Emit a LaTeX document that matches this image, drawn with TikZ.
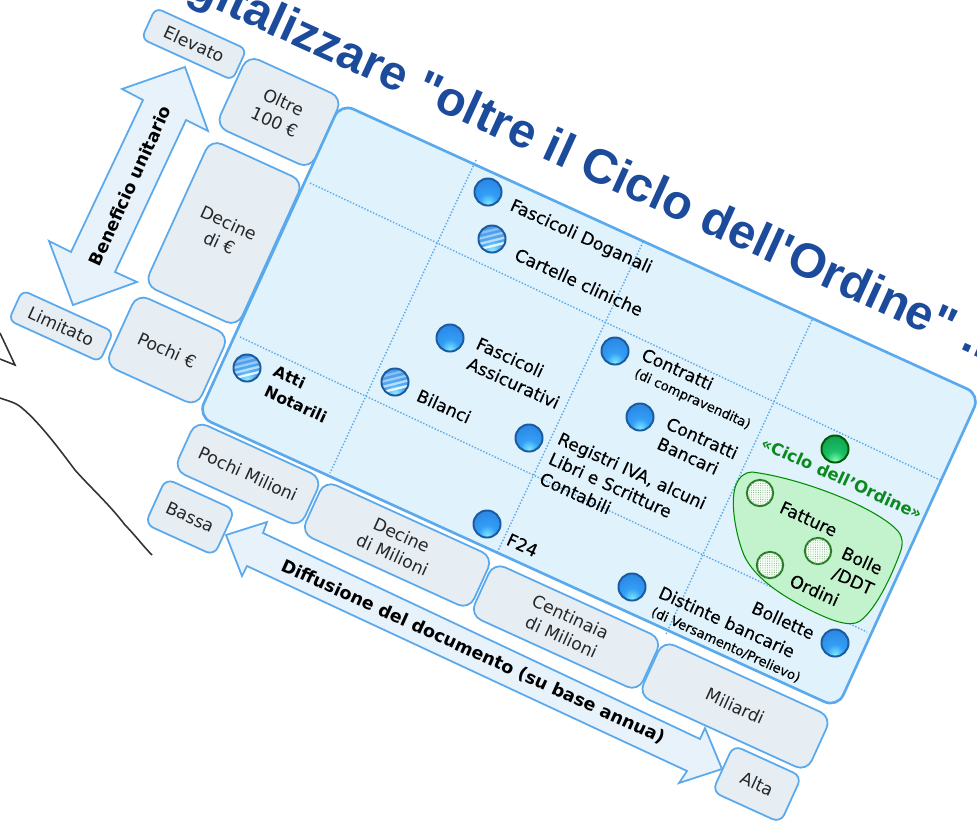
\documentclass[tikz,border=0pt]{standalone}
\usepackage{fontspec}
\setmainfont{DejaVu Sans}
\newfontfamily\titlefont{Liberation Sans}
\newfontfamily\lblfont[FakeBold=0.3]{DejaVu Sans}
\usetikzlibrary{patterns.meta}

\definecolor{edgeblue}{HTML}{5AA9EC}
\definecolor{panelblue}{HTML}{E0F2FB}
\definecolor{cellgrey}{HTML}{E6EDF3}
\definecolor{arrowfill}{HTML}{E8F2FA}
\definecolor{titleblue}{HTML}{1C4B9B}
\definecolor{blobgreen}{HTML}{C3F3CC}
\definecolor{cicloGreen}{HTML}{0A8A1E}
\definecolor{beadrim}{HTML}{1A5A9E}

\pgfdeclareradialshading{beadblue}{\pgfpoint{0bp}{-22bp}}{rgb(0bp)=(.5,.92,1);rgb(16bp)=(.2,.62,.96);rgb(45bp)=(.16,.5,.88);rgb(70bp)=(.12,.42,.76);rgb(100bp)=(.12,.42,.76)}
\pgfdeclareradialshading{beadgreen}{\pgfpoint{0bp}{-22bp}}{rgb(0bp)=(.5,1,.7);rgb(16bp)=(.1,.75,.4);rgb(45bp)=(.05,.6,.28);rgb(70bp)=(.05,.45,.2);rgb(100bp)=(.05,.45,.2)}

\tikzset{
  cell/.style={draw=edgeblue,fill=cellgrey,line width=1pt,rounded corners=7pt,rotate=-24.5,align=center,inner sep=0pt,text=black!85,font=\fontsize{9.8}{12.5}\selectfont},
  tag/.style={cell,rounded corners=4pt},
  bead/.style={circle,draw=beadrim,line width=1.1pt,minimum size=15.4pt,inner sep=0pt,shading=beadblue},
  beadlines/.style={bead,path picture={
    \fill[white,opacity=0.15] (path picture bounding box.south west) rectangle (path picture bounding box.north east);
    \foreach \s/\o in {5/.35,2/.45,-1/.6,-4/.85} {
      \draw[white,line width=1.3pt,opacity=\o] ([shift={(-12pt,{\s*1pt-3pt})}]path picture bounding box.center) -- ([shift={(12pt,{\s*1pt+3pt})}]path picture bounding box.center);
    }}},
  beaddots/.style={circle,draw=green!40!black!85,line width=1.1pt,minimum size=15pt,inner sep=0pt,fill=green!4,postaction={pattern={Dots[distance=1.3pt,radius=0.3pt]},pattern color=green!35!black!50}},
  lbl/.style={rotate=-24.5,anchor=west,align=left,inner sep=0pt,xshift=1.7pt,text=black,font=\lblfont\fontsize{9.8}{12.5}\selectfont},
  smalllbl/.style={lbl,font=\lblfont\fontsize{7.5}{9}\selectfont},
  bigarrow/.style={draw=edgeblue,fill=arrowfill,line width=1pt},
  griddot/.style={densely dotted,edgeblue,line width=0.8pt},
}

\begin{document}
\begin{tikzpicture}[x=0.02cm,y=-0.02cm]
\useasboundingbox (0,0) rectangle (977,826);
\clip (0,0) rectangle (977,826);

% sketch lines at the left
\draw[black!80,line width=0.9pt] (0,333)--(15,365)--(0,359);
\draw[black!80,line width=0.9pt] (0,398) .. controls (8,401) and (15,402) .. (22,408) .. controls (40,423) and (60,450) .. (75,470) .. controls (90,487) and (110,505) .. (125,525) .. controls (135,535) and (143,546) .. (152,555);

% title
\node[rotate=-24.5,anchor=base west,inner sep=0pt,text=titleblue,font=\titlefont\bfseries\fontsize{27.6}{30}\selectfont] (title) at (142,-24) {Digitalizzare "oltre il Ciclo dell'Ordine" ...};

% panel with grid
\node[draw=edgeblue,fill=panelblue,line width=1.5pt,rounded corners=8pt,rotate=-24.5,minimum width=703*0.569pt,minimum height=344*0.569pt] (panel) at (589,405.5) {};
\draw[griddot] (310,183)--(940,480);
\draw[griddot] (240,337)--(867,632);
\draw[griddot] (476,160)--(330,473);
\draw[griddot] (643,242)--(497,553);
\draw[griddot] (812,320)--(666,634);

% unit value column
\node[tag,minimum width=100*0.569pt,minimum height=34*0.569pt] (elevato) at (194,44) {Elevato};
\node[cell,minimum width=104*0.569pt,minimum height=78*0.569pt] (oltre) at (279,112) {Oltre\\100 €};
\node[cell,minimum width=102*0.569pt,minimum height=160*0.569pt] (decine) at (224,233) {Decine\\di €};
\node[cell,minimum width=101*0.569pt,minimum height=78*0.569pt] (pochi) at (167,350) {Pochi €};
\node[tag,minimum width=100*0.569pt,minimum height=33*0.569pt] (limitato) at (61,326) {Limitato};

% volume row
\node[cell,minimum width=139*0.569pt,minimum height=54*0.569pt] (pmilioni) at (248,474) {Pochi Milioni};
\node[cell,minimum width=185*0.569pt,minimum height=58*0.569pt] (dmilioni) at (397,545) {Decine\\di Milioni};
\node[cell,minimum width=185*0.569pt,minimum height=58*0.569pt] (cmilioni) at (566,627) {Centinaia\\di Milioni};
\node[cell,minimum width=185*0.569pt,minimum height=60*0.569pt] (miliardi) at (735,706) {Miliardi};
\node[cell,rounded corners=5pt,minimum width=76*0.569pt,minimum height=50*0.569pt] (bassa) at (190,517) {Bassa};
\node[cell,rounded corners=5pt,minimum width=75*0.569pt,minimum height=51*0.569pt] (alta) at (757,784) {Alta};

% big arrows
\draw[bigarrow] (185,67)--(208,131)--(186,120)--(115,272)--(137,282)--(73,305)--(49,241)--(71,252)--(143,100)--(122,89)--cycle;
\draw[bigarrow] (226,535)--(267,522)--(263,533)--(700,739)--(705,728)--(722,769)--(679,783)--(687,771)--(247,566)--(242,576)--cycle;
\node[rotate=65.5,font=\bfseries\fontsize{9.9}{10}\selectfont] (beneficio) at (130,186) {Beneficio unitario};
\node[rotate=-24.5,font=\bfseries\fontsize{10}{10}\selectfont] (diffusione) at (473,652) {Diffusione del documento (su base annua)};

% green group
\draw[draw=green!55!black,fill=blobgreen,line width=0.6pt] (752,472) .. controls (800,478) and (870,505) .. (895,528) .. controls (904,536) and (903,545) .. (900,553) .. controls (890,580) and (875,610) .. (860,621) .. controls (850,628) and (830,620) .. (810,610) .. controls (780,595) and (750,575) .. (742,550) .. controls (735,530) and (730,500) .. (736,485) .. controls (739,477) and (745,472) .. (752,472) -- cycle;

% documents
\node[bead] (doganali) at (488,192) {};
\node[lbl] (doganalit) at (508,204) {Fascicoli Doganali};
\node[beadlines] (cartelle) at (492,239) {};
\node[lbl] (cartellet) at (513,252) {Cartelle cliniche};
\node[bead] (assic) at (450,338) {};
\node[lbl] (assict) at (470,351) {Fascicoli\\Assicurativi};
\node[beadlines] (bilanci) at (395,382) {};
\node[lbl] (bilancit) at (415,393) {Bilanci};
\node[beadlines] (atti) at (247,368) {};
\node[lbl,font=\bfseries\fontsize{9}{12.5}\selectfont] (attit) at (267,379) {Atti\\Notarili};
\node[bead] (contratti) at (615,351) {};
\node[lbl] (contrattit) at (640,352) {Contratti};
\node[smalllbl] (vendita) at (632,372) {(di compravendita)};
\node[bead] (cbancari) at (640,417) {};
\node[lbl] (cbancarit) at (660,431) {Contratti\\Bancari};
\node[bead] (registri) at (529,438) {};
\node[lbl] (registrit) at (547,456) {Registri IVA, alcuni\\Libri e Scritture\\Contabili};
\node[bead] (f24) at (487,524) {};
\node[lbl] (f24t) at (505,537) {F24};
\node[bead] (distinte) at (632,587) {};
\node[lbl] (distintet) at (657,590) {Distinte bancarie};
\node[smalllbl] (versam) at (649,610) {(di Versamento/Prelievo)};
\node[bead] (bollette) at (835,643) {};
\node[lbl] (bollettet) at (750,605) {Bollette};
\node[bead,shading=beadgreen,draw=green!35!black] (ciclo) at (835,449) {};
\node[lbl,xshift=-1.7pt,text=cicloGreen,font=\bfseries\fontsize{9.4}{10}\selectfont] (ciclot) at (762,442) {«Ciclo dell'Ordine»};
\node[beaddots] (fatture) at (760,493) {};
\node[lbl] (fatturet) at (778,505) {Fatture};
\node[beaddots] (bolle) at (818,551) {};
\node[lbl] (bollet) at (835,561) {Bolle\\/DDT};
\node[beaddots] (ordini) at (770,565) {};
\node[lbl] (ordinit) at (788,578) {Ordini};
\end{tikzpicture}
\end{document}
